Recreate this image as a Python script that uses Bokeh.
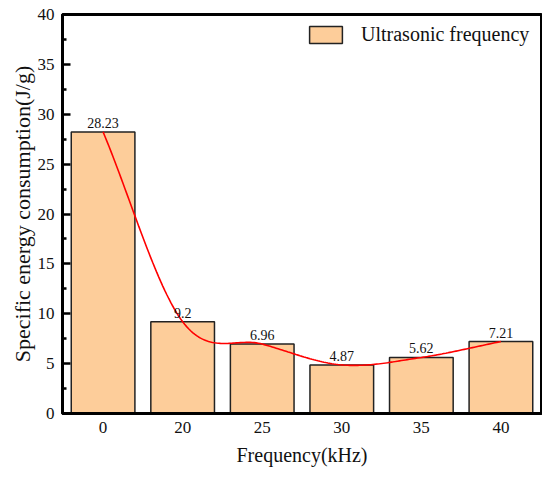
import numpy as np
from bokeh.plotting import figure
from bokeh.models import (ColumnDataSource, Range1d, LabelSet, Legend, LegendItem,
                          FixedTicker)
from bokeh.embed import file_html
from bokeh.resources import INLINE

freqs = ["0", "20", "25", "30", "35", "40"]
energy = [28.23, 9.2, 6.96, 4.87, 5.62, 7.21]
value_labels = ["28.23", "9.2", "6.96", "4.87", "5.62", "7.21"]
y_ticks = [0, 5, 10, 15, 20, 25, 30, 35, 40]

FONT = "Liberation Serif"

idx = list(range(len(freqs)))
src = ColumnDataSource(dict(x=idx, y=energy, lab=value_labels))

# smooth Catmull-Rom curve through the bar tops
yv = np.array(energy, dtype=float)
n = len(yv)
m = np.zeros(n)
m[0] = yv[1] - yv[0]
m[-1] = yv[-1] - yv[-2]
for i in range(1, n - 1):
    m[i] = (yv[i + 1] - yv[i - 1]) / 2.0
cx, cy = [], []
for i in range(n - 1):
    t = np.linspace(0, 1, 40, endpoint=(i == n - 2))
    h00 = 2 * t**3 - 3 * t**2 + 1
    h10 = t**3 - 2 * t**2 + t
    h01 = -2 * t**3 + 3 * t**2
    h11 = t**3 - t**2
    cx.extend(list(i + t))
    cy.extend(list(h00 * yv[i] + h10 * m[i] + h01 * yv[i + 1] + h11 * m[i + 1]))

p = figure(width=542, height=470, output_backend="svg", toolbar_location=None,
           x_range=Range1d(-0.51, 5.51), y_range=Range1d(0, 40),
           min_border_left=62, min_border_right=1, min_border_top=14, min_border_bottom=57)

bars = p.vbar(x="x", top="y", width=0.8, source=src, fill_color="#FDCD9A",
              line_color="#222222", line_width=1.5)
p.line(cx, cy, line_color="#FF0000", line_width=1.6)

labels = LabelSet(x="x", y="y", text="lab", source=src, text_align="center",
                  text_baseline="alphabetic", y_offset=4, text_font=FONT,
                  text_font_size="14px", text_color="#111111")
p.add_layout(labels)

p.xgrid.visible = False
p.ygrid.visible = False
p.background_fill_color = "white"
p.border_fill_color = "white"
p.outline_line_color = "black"
p.outline_line_width = 3
p.outline_line_alpha = 1

xa = p.xaxis[0]
xa.ticker = FixedTicker(ticks=idx)
xa.major_label_overrides = {i: f for i, f in zip(idx, freqs)}
xa.major_tick_in = 0
xa.major_tick_out = 0
xa.minor_tick_in = 0
xa.minor_tick_out = 0
xa.axis_line_width = 3
xa.axis_label = "Frequency(kHz)"

ya = p.yaxis[0]
ya.ticker = FixedTicker(ticks=y_ticks, minor_ticks=[t + 2.5 for t in y_ticks[:-1]])
ya.major_tick_in = 8
ya.major_tick_out = 0
ya.minor_tick_in = 4
ya.minor_tick_out = 0
ya.major_tick_line_width = 2.5
ya.minor_tick_line_width = 2.5
ya.axis_line_width = 3
ya.axis_label = "Specific energy consumption(J/g)"

for ax in (xa, ya):
    ax.major_label_text_font = FONT
    ax.major_label_text_font_size = "17px"
    ax.major_label_text_color = "#111111"
    ax.axis_label_text_font = FONT
    ax.axis_label_text_font_style = "normal"
    ax.axis_label_text_color = "#111111"
    ax.axis_line_color = "black"
xa.axis_label_text_font_size = "20px"
ya.axis_label_text_font_size = "22px"
xa.major_label_standoff = 8
xa.axis_label_standoff = 8
ya.major_label_standoff = 8
ya.axis_label_standoff = 0

legend = Legend(items=[LegendItem(label="Ultrasonic frequency", renderers=[bars])],
                location=(236, 360), glyph_width=41, glyph_height=21,
                label_standoff=15, label_text_font=FONT, label_text_font_size="20px",
                label_text_color="#111111", border_line_alpha=0,
                background_fill_alpha=0, margin=0, padding=7)
p.add_layout(legend)

open("out.html", "w").write(file_html(p, INLINE))
